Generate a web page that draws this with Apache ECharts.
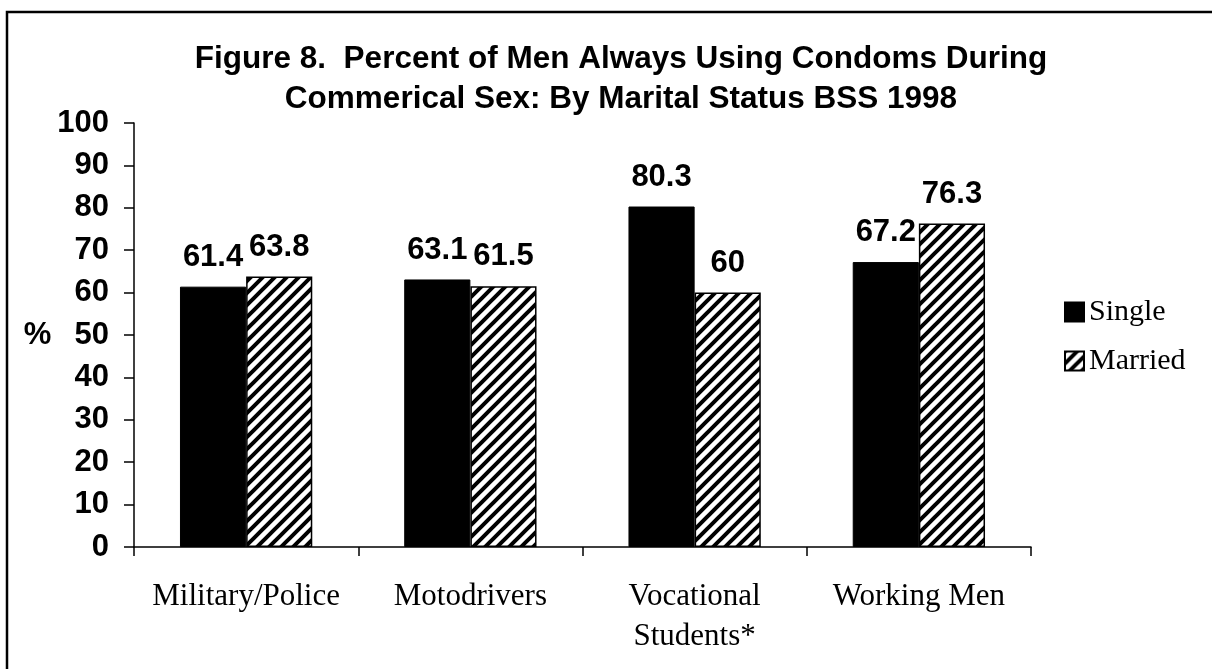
<!DOCTYPE html>
<html>
<head>
<meta charset="utf-8">
<script src="https://cdn.jsdelivr.net/npm/echarts@6/dist/echarts.min.js"></script>
<style>
  html, body { margin: 0; padding: 0; background: #fff; }
  #chart { width: 1212px; height: 669px; }
</style>
</head>
<body>
<div id="chart"></div>
<script>
// data
var categories = ['Military/Police', 'Motodrivers', 'Vocational\nStudents*', 'Working Men'];
var singleValues = [61.4, 63.1, 80.3, 67.2];
var marriedValues = [63.8, 61.5, 60, 76.3];
var yTicks = [0, 10, 20, 30, 40, 50, 60, 70, 80, 90, 100];

// diagonal hatch for "Married"
function makeHatch() {
  var c = document.createElement('canvas');
  c.width = 12; c.height = 12;
  var ctx = c.getContext('2d');
  ctx.fillStyle = '#fff';
  ctx.fillRect(0, 0, 12, 12);
  ctx.strokeStyle = '#000';
  ctx.lineWidth = 4;
  ctx.beginPath();
  ctx.moveTo(-2, 14); ctx.lineTo(14, -2);
  ctx.moveTo(-8, 8); ctx.lineTo(8, -8);
  ctx.moveTo(4, 20); ctx.lineTo(20, 4);
  ctx.stroke();
  return c;
}
var hatch = makeHatch();

var chart = echarts.init(document.getElementById('chart'));
var labelStyle = {
  show: true,
  position: 'top',
  distance: 14,
  color: '#000',
  fontFamily: 'Liberation Sans, Arial',
  fontWeight: 'bold',
  fontSize: 31
};

var option = {
  animation: false,
  backgroundColor: '#fff',
  title: {
    text: 'Figure 8.  Percent of Men Always Using Condoms During\nCommerical Sex: By Marital Status BSS 1998',
    left: 616,
    top: 34,
    textAlign: 'center',
    textStyle: {
      fontFamily: 'Liberation Sans, Arial',
      fontWeight: 'bold',
      fontSize: 31.5,
      lineHeight: 40,
      color: '#000'
    }
  },
  graphic: [{
    type: 'rect',
    shape: { x: 7, y: 12, width: 1260, height: 720 },
    style: { fill: 'none', stroke: '#000', lineWidth: 2.5 },
    silent: true
  }],
  legend: {
    orient: 'vertical',
    left: 1059,
    top: 292,
    itemWidth: 19,
    itemHeight: 19,
    itemGap: 19,
    textStyle: {
      fontFamily: 'Liberation Serif, Times New Roman',
      fontSize: 30,
      color: '#000'
    },
    data: [
      { name: 'Single', icon: 'rect' },
      { name: 'Married', icon: 'rect' }
    ]
  },
  grid: { left: 134, right: 181, top: 123, bottom: 122 },
  xAxis: {
    type: 'category',
    data: categories,
    axisLine: { lineStyle: { color: '#000', width: 1.5 } },
    axisTick: { show: true, length: 9, lineStyle: { color: '#000', width: 1.5 } },
    axisLabel: {
      color: '#000',
      fontFamily: 'Liberation Serif, Times New Roman',
      fontSize: 31,
      lineHeight: 40,
      margin: 30,
      interval: 0
    }
  },
  yAxis: {
    type: 'value',
    min: yTicks[0],
    max: yTicks[yTicks.length - 1],
    interval: 10,
    name: '%',
    nameLocation: 'middle',
    nameRotate: 0,
    nameGap: 75,
    nameTextStyle: {
      color: '#000',
      fontFamily: 'Liberation Sans, Arial',
      fontWeight: 'bold',
      fontSize: 31
    },
    splitLine: { show: false },
    axisLine: { show: true, lineStyle: { color: '#000', width: 1.5 } },
    axisTick: { show: true, length: 10, lineStyle: { color: '#000', width: 1.5 } },
    axisLabel: {
      color: '#000',
      fontFamily: 'Liberation Sans, Arial',
      fontWeight: 'bold',
      fontSize: 31,
      margin: 25
    }
  },
  series: [
    {
      name: 'Single',
      type: 'bar',
      data: singleValues,
      barGap: '0%',
      barCategoryGap: '41%',
      itemStyle: { color: '#000', borderColor: '#000', borderWidth: 1 },
      label: labelStyle
    },
    {
      name: 'Married',
      type: 'bar',
      data: marriedValues,
      itemStyle: {
        color: { image: hatch, repeat: 'repeat' },
        borderColor: '#000',
        borderWidth: 1.5
      },
      label: labelStyle
    }
  ]
};
chart.setOption(option);
</script>
</body>
</html>
